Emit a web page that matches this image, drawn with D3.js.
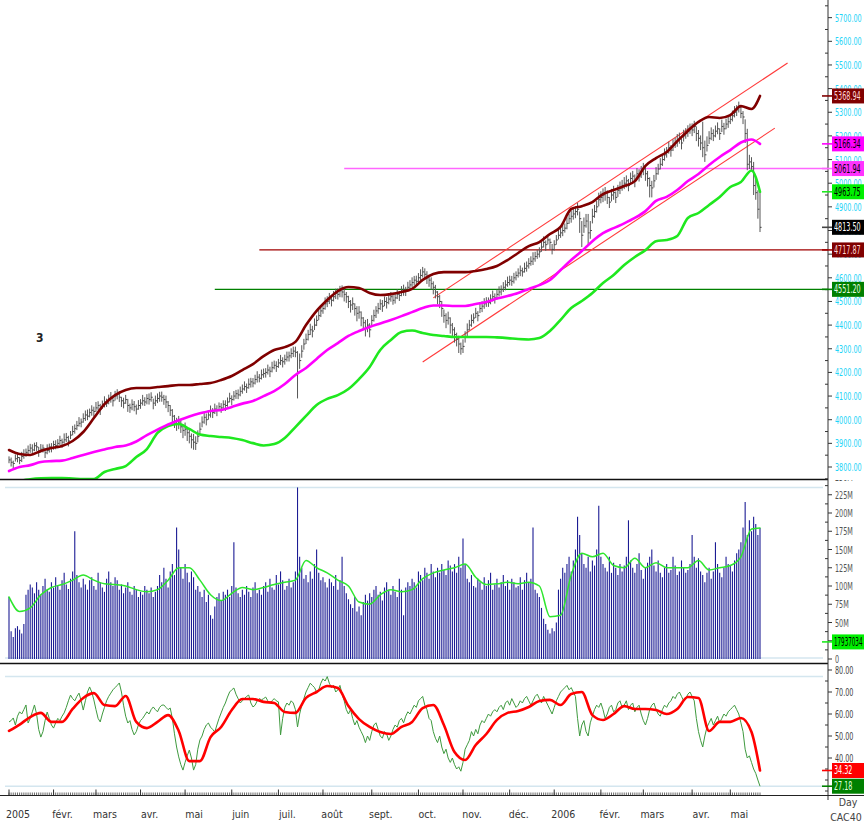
<!DOCTYPE html>
<html><head><meta charset="utf-8">
<script src="https://cdn.jsdelivr.net/npm/d3@7"></script>
<style>body{margin:0;background:#fff}svg{display:block}</style>
</head><body><svg id="c" width="864" height="825"></svg>
<script>
// ---------- DATA ----------
const startDate = "2005-01-03", endDate = "2006-05-22";
const holidays = ["2005-03-25","2005-03-28","2005-12-26","2006-04-14","2006-04-17","2006-05-01"];
const monthLabels = ["2005","févr.","mars","avr.","mai","juin","juil.","août","sept.","oct.","nov.","déc.","2006","févr.","mars","avr.","mai"];

const closes = [
3830,3820,3815,3835,3840,3828,3845,3850,3862,3870,
3880,3872,3890,3885,3868,3875,3880,3860,3870,3885,
3880,3895,3890,3900,3912,3905,3915,3925,3910,3935,
3950,3962,3975,3985,3990,4005,4020,4015,4030,4040,
4035,4050,4060,4045,4065,4075,4070,4085,4090,4080,
4100,4110,4095,4080,4070,4085,4060,4050,4065,4055,
4045,4060,4070,4080,4075,4090,4085,4095,4070,4080,
4090,4100,4095,4085,4075,4060,4040,4015,3995,3980,
3990,3970,3955,3960,3945,3930,3915,3905,3900,3930,
3960,3990,4010,4000,4020,4035,4030,4045,4040,4055,
4050,4065,4060,4075,4090,4085,4100,4110,4105,4120,
4130,4140,4135,4150,4160,4155,4170,4180,4175,4190,
4195,4200,4210,4205,4220,4230,4225,4240,4250,4245,
4255,4265,4270,4280,4290,4285,4200,4250,4290,4320,
4340,4360,4380,4375,4400,4420,4440,4460,4470,4490,
4500,4510,4505,4520,4535,4530,4545,4540,4530,4520,
4500,4485,4490,4470,4450,4455,4430,4410,4390,4400,
4380,4420,4440,4460,4470,4490,4480,4500,4495,4510,
4520,4505,4515,4530,4525,4540,4550,4545,4560,4570,
4580,4590,4585,4600,4610,4625,4615,4600,4590,4575,
4560,4540,4520,4500,4470,4440,4420,4430,4400,4380,
4360,4340,4320,4300,4310,4350,4380,4400,4420,4430,
4450,4440,4470,4480,4490,4500,4495,4510,4520,4515,
4530,4540,4550,4560,4570,4580,4590,4585,4600,4610,
4620,4630,4625,4640,4650,4660,4670,4680,4690,4700,
4710,4730,4750,4740,4760,4750,4720,4740,4760,4780,
4790,4800,4810,4830,4850,4860,4870,4880,4890,4850,
4780,4820,4840,4790,4800,4860,4880,4900,4930,4940,
4950,4960,4940,4920,4950,4960,4940,4970,4980,4990,
5000,5010,4990,5020,5030,5010,5040,5030,5050,5060,
5040,5020,4990,4980,5010,5040,5060,5080,5100,5120,
5130,5150,5140,5160,5170,5180,5190,5170,5200,5210,
5220,5230,5225,5240,5210,5190,5170,5150,5120,5160,
5190,5210,5200,5220,5230,5210,5240,5230,5250,5260,
5270,5285,5300,5310,5320,5295,5280,5210,5080,5090,
5070,4990,4960,4890,4813.5];

// distance from close to the day's high / low (points)
const upOff = [
15,20,12,18,22,14,19,25,16,21, 18,24,13,20,17,22,15,19,26,14,
21,16,23,18,20,15,27,19,22,17, 24,18,20,26,15,22,19,28,17,21,
20,25,18,22,16,24,19,21,27,18, 22,19,26,17,23,20,28,18,21,24,
19,23,17,25,20,18,26,21,19,22, 21,18,24,20,27,19,22,30,25,28,
26,30,24,28,22,32,27,35,30,25, 28,24,22,26,20,25,19,23,21,18,
20,17,22,19,24,18,21,16,23,20, 19,22,18,24,17,21,20,25,18,22,
21,18,23,19,25,20,22,17,24,19, 20,23,18,22,19,24,90,30,25,22,
24,20,26,22,28,21,25,19,23,27, 22,26,20,24,19,25,21,28,23,20,
24,21,27,22,30,25,28,24,32,26, 28,22,25,20,24,19,26,21,23,18,
20,24,18,22,19,25,21,17,23,20, 22,18,24,20,26,21,25,28,22,27,
25,30,24,28,32,26,30,27,33,29, 31,28,35,26,30,24,27,22,25,20,
23,19,25,21,24,18,22,20,26,19, 21,24,18,22,20,25,19,23,21,17,
20,22,18,24,19,23,21,28,20,18, 19,22,25,18,20,16,23,19,21,24,
22,25,20,26,21,24,28,23,27,30, 60,35,30,80,40,32,28,25,30,26,
28,24,30,22,26,29,25,23,27,24, 26,23,28,25,22,27,24,29,23,26,
28,32,35,30,25,28,22,26,24,27, 23,26,21,25,22,28,24,20,26,23,
25,22,28,24,30,35,32,110,60,38, 30,26,28,24,27,22,29,25,23,26,
24,22,26,20,25,30,25,60,150,30, 40,100,60,80,150];
const dnOff = [
14,18,22,12,20,16,24,15,19,21, 20,15,23,17,25,14,19,22,16,24,
18,22,15,21,19,24,16,20,23,17, 16,21,19,14,22,18,25,17,20,23,
22,17,21,25,19,23,16,20,18,24, 19,24,20,26,22,18,27,21,25,19,
23,18,24,20,17,25,21,19,26,22, 20,24,19,22,26,28,24,32,30,27,
30,26,33,28,35,30,36,32,28,26, 25,22,27,24,20,26,23,21,25,19,
21,18,23,20,17,24,19,22,18,21, 20,17,22,19,24,18,21,23,17,20,
18,22,19,25,20,17,23,21,19,24, 22,19,24,20,25,21,110,35,28,24,
20,25,22,27,21,24,19,26,22,25, 24,21,26,20,25,22,27,23,30,26,
28,32,26,30,34,28,35,31,38,30, 32,28,25,30,22,26,24,20,25,22,
21,19,24,20,23,18,26,22,19,24, 20,23,18,25,21,24,22,26,28,25,
30,27,32,28,35,30,33,28,36,31, 34,30,38,25,28,24,26,22,27,23,
20,24,19,25,21,23,18,22,20,24, 22,19,24,20,23,18,22,19,24,21,
19,23,20,18,24,21,19,26,22,20, 24,20,22,26,19,30,21,25,20,18,
21,24,19,25,22,27,24,28,26,60, 50,30,28,50,35,30,26,24,28,25,
30,34,28,25,27,30,24,28,26,22, 25,28,24,26,30,27,25,23,28,26,
30,34,50,40,28,26,24,22,27,25, 22,25,28,24,21,26,23,27,24,22,
24,21,26,28,32,35,30,40,30,26, 24,28,22,26,23,27,24,25,22,26,
20,24,22,26,21,20,30,40,25,30, 20,40,30,40,20];

// daily volume, millions of shares
const volumes = [
85,38,30,42,45,40,35,48,88,95, 102,98,90,105,95,88,100,110,95,92,
105,98,112,100,95,108,118,102,96,110, 120,175,115,105,98,110,102,95,108,112,
100,95,118,105,98,92,110,120,105,100, 112,108,95,102,90,98,105,92,88,100,
95,85,92,88,100,95,90,98,85,92, 100,115,105,125,110,98,120,130,115,180,
150,125,110,130,118,105,120,112,95,100, 92,85,95,78,88,60,55,72,85,90,
80,92,88,95,85,100,160,98,90,85, 95,88,100,92,85,98,105,90,95,88,
100,105,92,110,98,95,115,102,120,108, 95,100,110,98,105,120,235,140,125,110,
115,105,120,110,130,150,118,108,112,105, 98,110,105,100,115,95,108,140,100,90,
82,75,70,85,65,72,60,78,88,80, 90,85,95,100,88,92,80,98,105,95,
88,100,92,85,110,95,60,98,105,100, 110,105,98,120,115,108,125,118,110,130,
120,112,125,118,130,122,115,135,128,120, 130,118,140,125,165,130,110,105,115,100,
98,110,105,95,112,100,108,118,95,102, 110,98,105,115,100,108,95,110,105,98,
100,112,95,108,118,105,110,180,95,90, 85,70,55,48,40,35,42,38,50,95,
110,125,118,130,140,120,135,150,195,170, 145,130,125,140,120,135,128,150,210,140,
130,125,120,140,118,132,125,115,130,120, 128,140,190,135,125,118,130,145,122,110,
125,132,140,150,128,120,135,118,112,125, 130,118,122,140,128,115,120,135,125,118,
122,130,170,140,125,138,120,115,105,118, 125,110,120,160,130,118,112,125,140,130,
128,120,135,145,150,160,180,215,170,190, 175,195,185,170,179.37];

// daily RSI
const rsi = [
56.4,57,58.2,55,59,61,60,62,64.1,55.9, 58,61,64.1,60,53,49.5,52,57,60.9,58,
55,53.6,56,58,57,59,60.5,63,66,68.6, 67,66,68,69.5,66,61.8,66,70,72.3,70,
66.4,62,58,56.4,60,63,66,68,69.5,71, 72,73,74.1,70,64,59,55.9,57,53,50.5,
52,55,57,58,59.5,61,60,62,63.2,62, 61,63,64,64.1,63,62,62.7,58,51,45,
40.5,37,34.5,38,41,43.6,40,34.5,37,44, 48.2,50,53,55,55.9,54,53,51.8,55,58,
60.5,63,65,67.7,70,71,71.8,69,67,65, 66,67,68,68.6,65,63.2,64,66,67,66.4,
67,67.7,66,65,66,67,66,65.5,50.5,58, 63,65,64,66,65,62,54.1,60,64,67,
70,72,74,73,72,70,71,74,76,75, 77,74,72,73,70,71,73,69,66,62,
60,62,58,55,57,54,52,50,47,50, 48,52,55,56,53,50,49,52,51,48,
50,53,55,54,57,58,56,59,61,60, 62,64,63,66,67,68,64,62,58,57,
52,49,47,50,45,42,44,40,38,40, 37,35,36,34,38,44,46,48,52,50,
53,51,55,57,56,58,60,59,61,62, 61,63,64,62,65,66,64,67,65,63,
64,66,65,67,68,66,64,66,68,69, 67,65,68,66,64,62,60,63,66,68,
70,71,72,73,71,72,70,68,58,50, 55,57,52,50,56,59,62,64,63,65,
62,58,60,63,64,61,62,65,66,63, 64,66,62,64,65,61,63,64,60,57,
55,58,62,64,65,62,60,59,62,64, 63,65,66,68,67,69,70,68,66,67,
69,70,68,66,58,52,48,45,50,54, 56,58,55,57,59,56,58,60,59,61,
62,63,64,62,60,56,52,44,40,41, 38,35,33,30,27.18];

// averages, read every 5th trading day (plus the last day)
const upperAvg = [3872,3855,3851,3868,3880,3889,3910,3948,4007,4066,
4104,4126,4134,4134,4138,4142,4147,4147,4151,4155,
4168,4185,4210,4235,4269,4295,4307,4329,4400,4460,
4506,4544,4561,4557,4536,4527,4531,4540,4553,4591,
4616,4624,4624,4624,4629,4637,4650,4675,4705,4734,
4751,4785,4815,4891,4903,4920,4954,4971,4988,5009,
5073,5106,5132,5178,5221,5259,5280,5276,5288,5326,
5314,5368.94];
const midAvg = [3783,3800,3808,3821,3825,3827,3838,3851,3863,3874,
3885,3891,3908,3935,3958,3980,3998,4014,4027,4037,
4041,4054,4068,4079,4100,4121,4151,4189,4219,4257,
4295,4324,4354,4375,4392,4407,4422,4438,4455,4472,
4483,4483,4481,4481,4489,4498,4512,4523,4536,4553,
4569,4591,4633,4675,4713,4755,4789,4810,4830,4853,
4882,4925,4942,4971,5009,5039,5077,5111,5140,5172,
5185,5166.34];
const slowAvg = [3720,3740,3748,3752,3753,3753,3751,3749,3749,3779,
3792,3804,3842,3876,3944,3973,3982,3961,3937,3931,
3927,3923,3914,3901,3891,3897,3923,3969,4016,4062,
4088,4104,4130,4172,4223,4295,4337,4371,4377,4367,
4358,4354,4350,4350,4350,4350,4348,4345,4341,4339,
4345,4375,4422,4472,4502,4536,4578,4612,4654,4688,
4717,4755,4760,4777,4853,4874,4908,4942,4984,5005,
5054,4963.75];
const volAvg = [85,65,70,88,98,102,108,115,108,103,
102,100,95,92,95,108,125,125,108,88,
80,90,98,95,98,102,105,108,135,125,
118,108,100,78,75,88,95,92,95,110,
118,122,125,130,112,102,103,105,103,105,
100,58,60,115,145,140,145,128,125,138,
125,132,125,125,125,135,122,125,128,140,
178,179.37];
const rsiAvg = [52.3,55.2,58.6,60.5,56.4,56.4,62.3,67.3,69.5,64.1,
63.6,68.2,56.4,53.6,56.4,59.5,52.3,38.6,38.6,49.5,
54.1,61.8,66.8,66.8,65.5,65,60.9,60.5,67.3,70,
72.7,71.8,63.6,57.7,54.1,51.8,50.9,54.1,56.4,62.7,
64.1,55,42.7,39.1,45.9,50.9,57.3,60.5,61.4,63.2,
65.9,66.4,64.1,69.1,70,59.5,57.3,60,63.6,62.3,
62.3,61.8,60,62.3,67.7,67.3,52.3,56.4,56.4,58.2,
51.8,34.32];

// horizontal levels and channel
const levelValues = [5061.94, 4717.87, 4551.20];
const levelStartDays = [158, 118, 97];
const lowerChannelDays = [195, 361], lowerChannelValues = [4244, 5233];
const upperChannelDays = [200, 367], upperChannelValues = [4515, 5508];

// right-axis value tags
const priceTags = [5368.94, 5166.34, 5061.94, 4963.75, 4813.50, 4717.87, 4551.20];
const volumeTag = 17937034;
const rsiTags = [34.32, 27.18];
const priceTicks = d3.range(3800, 5701, 100);
const volumeTicks = d3.range(0, 251, 25);
const rsiTicks = d3.range(40, 81, 10);

// ---------- DRAWING ----------
const FONT = "'Liberation Sans Narrow','DejaVu Sans Condensed','Arial Narrow',sans-serif";
const svg = d3.select("#c");
svg.append("rect").attr("width",864).attr("height",825).attr("fill","#fff");

const parse = d3.utcParse("%Y-%m-%d"), fmt = d3.utcFormat("%Y-%m-%d");
const hol = new Set(holidays);
const days = d3.utcDay.range(parse(startDate), d3.utcDay.offset(parse(endDate), 1))
  .filter(d => d.getUTCDay() !== 0 && d.getUTCDay() !== 6 && !hol.has(fmt(d)));
const n = closes.length;
const idx = d3.range(n);
const sampleDays = d3.range(0, n - 4, 5).concat([n - 1]);

const x = d3.scaleLinear().domain([0, n - 1]).range([9, 760]);
const yP = d3.scaleLinear().domain([3749.3, 5753.5]).range([479, 5]);
const yV = d3.scaleLinear().domain([0, 250]).range([659, 476.5]);
const yR = d3.scaleLinear().domain([20, 80]).range([802, 670]);
const AX = 828;

// target width of a label in the narrow axis font
function labelWidth(s) {
  let w = 0;
  for (const ch of s) w += ch === "." ? 2.1 : ch === "M" ? 5.6 : 4.1;
  return w;
}
// place a horizontally condensed text whose left edge is at (px, py baseline)
function narrowText(parent, px, py, s, size, fill, maxW) {
  const g = parent.append("g").attr("transform", `translate(${px},${py})`);
  const t = g.append("text").attr("x", 0).attr("y", 0).attr("font-family", FONT)
    .attr("font-size", size).attr("fill", fill).text(s);
  const target = Math.min(labelWidth(s), maxW || 999);
  const natural = t.node().getComputedTextLength() || target;
  t.attr("transform", `scale(${Math.min(1, target / natural)},1)`);
  return t;
}

const defs = svg.append("defs");
function clip(id, y0, y1) {
  defs.append("clipPath").attr("id", id).append("rect").attr("x",0).attr("y",y0).attr("width",AX).attr("height",y1-y0);
}
clip("cp", 5, 479); clip("cv", 480, 663); clip("cr", 664, 795);
const gP = svg.append("g").attr("clip-path","url(#cp)");
const gV = svg.append("g").attr("clip-path","url(#cv)");
const gR = svg.append("g").attr("clip-path","url(#cr)");

// horizontal levels
const levelColors = ["#ff66ff", "#a00000", "#008000"];
levelValues.forEach((v, k) => {
  gP.append("line").attr("x1", x(levelStartDays[k])).attr("x2", AX)
    .attr("y1", yP(v)).attr("y2", yP(v)).attr("stroke", levelColors[k]).attr("stroke-width", k === 0 ? 1.6 : 1.2);
});
// channel
[[lowerChannelDays, lowerChannelValues], [upperChannelDays, upperChannelValues]].forEach(([dd, vv]) => {
  gP.append("line").attr("x1", x(dd[0])).attr("y1", yP(vv[0])).attr("x2", x(dd[1])).attr("y2", yP(vv[1]))
    .attr("stroke", "#ff3a3a").attr("stroke-width", 1.1);
});
// OHLC bars
gP.append("g").selectAll("line").data(idx).join("line")
  .attr("x1", i => x(i)).attr("x2", i => x(i))
  .attr("y1", i => yP(closes[i] + upOff[i])).attr("y2", i => yP(closes[i] - dnOff[i]))
  .attr("stroke", "#575757").attr("stroke-width", 1);
gP.append("g").selectAll("line").data(idx).join("line")
  .attr("x1", i => x(i)).attr("x2", i => x(i) + 1.6)
  .attr("y1", i => yP(closes[i])).attr("y2", i => yP(closes[i]))
  .attr("stroke", "#444").attr("stroke-width", 1);
// moving averages
function avgLine(g, arr, ys, color, w) {
  const line = d3.line().x((d, k) => x(sampleDays[k])).y(d => ys(d)).curve(d3.curveMonotoneX);
  g.append("path").attr("d", line(arr)).attr("fill","none").attr("stroke",color).attr("stroke-width",w)
    .attr("stroke-linejoin","round").attr("stroke-linecap","round");
}
avgLine(gP, slowAvg, yP, "#1fe81f", 2.6);
avgLine(gP, midAvg, yP, "#ff00ff", 2.6);
avgLine(gP, upperAvg, yP, "#800000", 2.6);
gP.append("text").attr("x", 36).attr("y", 342).attr("font-family", FONT).attr("font-size", 12)
  .attr("font-weight","bold").attr("fill","#222").text("3");

// volume panel
const vMax = d3.max(volumes);
gV.append("line").attr("x1",5).attr("x2",823).attr("y1",yV(vMax)).attr("y2",yV(vMax)).attr("stroke","#d4e6ef").attr("stroke-width",1.5);
gV.append("line").attr("x1",5).attr("x2",823).attr("y1",yV(0)-1).attr("y2",yV(0)-1).attr("stroke","#d4e6ef").attr("stroke-width",1.5);
gV.append("g").selectAll("line").data(idx).join("line")
  .attr("x1", i => x(i)).attr("x2", i => x(i))
  .attr("y1", yV(0)).attr("y2", i => yV(volumes[i]))
  .attr("stroke", "#1c1c94").attr("stroke-width", 1.1);
avgLine(gV, volAvg, yV, "#2ee62e", 1.5);

// RSI panel
const rMax = d3.max(rsi), rMin = d3.min(rsi);
[rMax, rMin].forEach(v => gR.append("line").attr("x1",5).attr("x2",823).attr("y1",yR(v)).attr("y2",yR(v))
  .attr("stroke","#d4e6ef").attr("stroke-width",1.5));
gR.append("path").attr("d", d3.line().x((d,i)=>x(i)).y(d=>yR(d))(rsi))
  .attr("fill","none").attr("stroke","#3f9a3f").attr("stroke-width",1);
avgLine(gR, rsiAvg, yR, "#ff0000", 2.6);

// separators
[479.5, 663.5].forEach(y => svg.append("line").attr("x1",0).attr("x2",AX).attr("y1",y).attr("y2",y)
  .attr("stroke","#111").attr("stroke-width",1.6));

// right axis
svg.append("line").attr("x1",AX).attr("x2",AX).attr("y1",0).attr("y2",800).attr("stroke","#333").attr("stroke-width",1);
const axG = svg.append("g");
defs.append("clipPath").attr("id","cva").append("rect").attr("x",0).attr("y",480).attr("width",864).attr("height",183);
function axisTicks(ticks, ys, fmtF, color, minorStep, lo, hi, clipId) {
  const g = axG.append("g"); if (clipId) g.attr("clip-path", `url(#${clipId})`);
  ticks.forEach(v => {
    g.append("line").attr("x1",AX).attr("x2",AX+4).attr("y1",ys(v)).attr("y2",ys(v)).attr("stroke","#333");
    narrowText(g, AX+7, ys(v)+4, fmtF(v), 11, color);
  });
  d3.range(lo, hi + 0.001, minorStep).forEach(v => {
    if (ticks.includes(v)) return;
    g.append("line").attr("x1",AX-3).attr("x2",AX).attr("y1",ys(v)).attr("y2",ys(v)).attr("stroke","#333");
  });
}
axisTicks(priceTicks, yP, v => v.toFixed(2), "#1ed4f7", 50, 3750, 5750);
axisTicks(volumeTicks, yV, v => v === 0 ? "0" : v + "M", "#555", 12.5, 0, 250, "cva");
axisTicks(rsiTicks, yR, v => v.toFixed(2), "#444", 5, 25, 80);

function tag(y, bg, fg, text, tick) {
  svg.append("line").attr("x1",AX-6).attr("x2",AX+4).attr("y1",y).attr("y2",y).attr("stroke",tick).attr("stroke-width",1.6);
  svg.append("rect").attr("x",AX+4).attr("y",y-7.5).attr("width",40).attr("height",15).attr("fill",bg);
  narrowText(svg, AX+6, y+4, text, 11.5, fg, 28.5);
}
const priceTagStyle = [["#800000","#ffd8d8","#800000"],["#ff00ff","#000","#ff00ff"],["#ff33ff","#000","#ff66ff"],
  ["#00f000","#000","#1fe81f"],["#000","#fff","#444"],["#800000","#ffd8d8","#a00000"],["#008000","#e8ffe8","#008000"]];
priceTags.forEach((v,k) => tag(yP(v), priceTagStyle[k][0], priceTagStyle[k][1], v.toFixed(2), priceTagStyle[k][2]));
tag(yV(volumeTag/1e6) - 4, "#00f000", "#000", String(volumeTag), "#1fe81f");
tag(yR(rsiTags[0]), "#ff0000", "#fff", rsiTags[0].toFixed(2), "#ff0000");
tag(yR(rsiTags[1]), "#008000", "#dfffdf", rsiTags[1].toFixed(2), "#008000");

// bottom time axis
svg.append("line").attr("x1",0).attr("x2",864).attr("y1",795.5).attr("y2",795.5).attr("stroke","#222").attr("stroke-width",1);
svg.append("g").selectAll("line").data(idx).join("line")
  .attr("x1", i => x(i)).attr("x2", i => x(i)).attr("y1", 792.5).attr("y2", 795).attr("stroke","#444").attr("stroke-width",0.8);
const monthStarts = idx.filter(i => i === 0 || days[i].getUTCMonth() !== days[i-1].getUTCMonth());
const mg = svg.append("g").attr("font-family", FONT).attr("font-size", 10.5).attr("fill", "#333").attr("text-anchor","middle");
monthStarts.forEach((i, k) => {
  svg.append("line").attr("x1",x(i)).attr("x2",x(i)).attr("y1",789.5).attr("y2",795).attr("stroke","#333");
  if (k < monthLabels.length) mg.append("text").attr("x", x(i) + 9).attr("y", 818).text(monthLabels[k]);
});
const cg = svg.append("g").attr("font-family", FONT).attr("font-size", 10.5).attr("fill", "#444").attr("text-anchor","middle");
cg.append("text").attr("x",848).attr("y",806).text("Day");
cg.append("text").attr("x",846).attr("y",821).text("CAC40");
</script>
</body></html>
